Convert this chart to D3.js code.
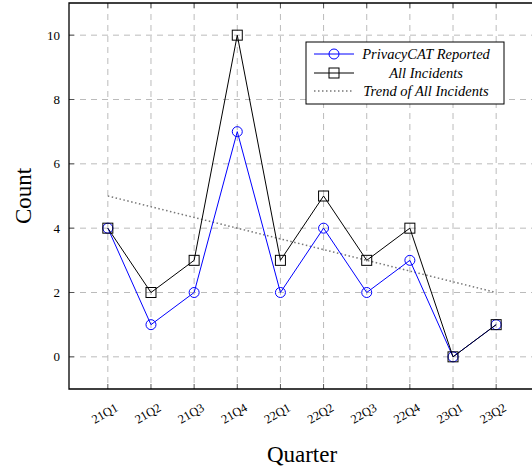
<!DOCTYPE html>
<html>
<head>
<meta charset="utf-8">
<script src="https://cdn.jsdelivr.net/npm/d3@7"></script>
<style>
body { margin:0; background:#fff; }
text { font-family: "Liberation Serif", "DejaVu Serif", serif; }
</style>
</head>
<body>
<svg id="chart" width="532" height="469"></svg>
<script>
// data
var quarters = ["21Q1","21Q2","21Q3","21Q4","22Q1","22Q2","22Q3","22Q4","23Q1","23Q2"];
var privacyCat = [4,1,2,7,2,4,2,3,0,1];
var allIncidents = [4,2,3,10,3,5,3,4,0,1];
var trendEnds = [5,2]; // linear trend, first and last quarter
var yTicks = [0,2,4,6,8,10];

var svg = d3.select("#chart");
var plot = {left:69, top:3, right:535, bottom:389};

var x = d3.scaleLinear().domain([-0.9, 9.9]).range([plot.left, plot.right]);
var y = d3.scaleLinear().domain([-1, 11]).range([plot.bottom, plot.top]);

/* grid */
var grid = svg.append("g").attr("stroke","#bbb").attr("stroke-dasharray","6,5").attr("stroke-width",1);
quarters.forEach(function(q,i){
  grid.append("line").attr("x1",x(i)).attr("x2",x(i)).attr("y1",plot.top).attr("y2",plot.bottom);
});
yTicks.forEach(function(v){
  grid.append("line").attr("x1",plot.left).attr("x2",plot.right).attr("y1",y(v)).attr("y2",y(v));
});

/* inward ticks */
var ticks = svg.append("g").attr("stroke","#555").attr("stroke-width",1);
quarters.forEach(function(q,i){
  ticks.append("line").attr("x1",x(i)).attr("x2",x(i)).attr("y1",plot.bottom).attr("y2",plot.bottom-5);
  ticks.append("line").attr("x1",x(i)).attr("x2",x(i)).attr("y1",plot.top).attr("y2",plot.top+5);
});
yTicks.forEach(function(v){
  ticks.append("line").attr("x1",plot.left).attr("x2",plot.left+5).attr("y1",y(v)).attr("y2",y(v));
});

/* frame */
svg.append("path")
  .attr("d","M"+plot.right+","+plot.top+"H"+plot.left+"V"+plot.bottom+"H"+plot.right)
  .attr("fill","none").attr("stroke","#000").attr("stroke-width",1.3);

/* tick labels */
svg.append("g").selectAll("text").data(yTicks).enter().append("text")
  .attr("x",plot.left-9).attr("y",function(d){return y(d);})
  .attr("dy","0.35em").attr("text-anchor","end").attr("font-size",13)
  .text(function(d){return d;});

svg.append("g").selectAll("text").data(quarters).enter().append("text")
  .attr("transform",function(d,i){return "translate("+(x(i)+11)+","+(plot.bottom+21)+") rotate(-30)";})
  .attr("text-anchor","end").attr("font-size",12.5)
  .text(function(d){return d;});

/* axis titles */
svg.append("text").attr("transform","translate(31,196) rotate(-90)")
  .attr("text-anchor","middle").attr("font-size",23).text("Count");
svg.append("text").attr("x",302).attr("y",462)
  .attr("text-anchor","middle").attr("font-size",23).text("Quarter");

/* trend */
svg.append("line")
  .attr("x1",x(0)).attr("y1",y(trendEnds[0]))
  .attr("x2",x(quarters.length-1)).attr("y2",y(trendEnds[1]))
  .attr("stroke","#777").attr("stroke-width",1.5).attr("stroke-dasharray","1.5,2.5");

var line = d3.line().x(function(d,i){return x(i);}).y(function(d){return y(d);});

/* PrivacyCAT series */
svg.append("path").datum(privacyCat).attr("d",line)
  .attr("fill","none").attr("stroke","#00f").attr("stroke-width",1);
svg.append("g").selectAll("circle").data(privacyCat).enter().append("circle")
  .attr("cx",function(d,i){return x(i);}).attr("cy",function(d){return y(d);})
  .attr("r",5).attr("fill","none").attr("stroke","#00f").attr("stroke-width",1);

/* All incidents series */
svg.append("path").datum(allIncidents).attr("d",line)
  .attr("fill","none").attr("stroke","#000").attr("stroke-width",1);
svg.append("g").selectAll("rect").data(allIncidents).enter().append("rect")
  .attr("x",function(d,i){return x(i)-5;}).attr("y",function(d){return y(d)-5;})
  .attr("width",10).attr("height",10)
  .attr("fill","none").attr("stroke","#000").attr("stroke-width",1);

/* legend */
var lg = svg.append("g").attr("transform","translate(306,42)");
lg.append("rect").attr("width",198).attr("height",62)
  .attr("fill","#fff").attr("stroke","#000").attr("stroke-width",1);
lg.append("line").attr("x1",8).attr("x2",48).attr("y1",12).attr("y2",12).attr("stroke","#00f");
lg.append("circle").attr("cx",28).attr("cy",12).attr("r",5).attr("fill","none").attr("stroke","#00f");
lg.append("line").attr("x1",8).attr("x2",48).attr("y1",31).attr("y2",31).attr("stroke","#000");
lg.append("rect").attr("x",23).attr("y",26).attr("width",10).attr("height",10).attr("fill","none").attr("stroke","#000");
lg.append("line").attr("x1",8).attr("x2",48).attr("y1",49).attr("y2",49)
  .attr("stroke","#777").attr("stroke-width",1.5).attr("stroke-dasharray","1.5,2.5");
var labels = ["PrivacyCAT Reported","All Incidents","Trend of All Incidents"];
lg.selectAll("text.lab").data(labels).enter().append("text")
  .attr("x",120).attr("y",function(d,i){return 12+i*18.5;})
  .attr("dy","0.35em").attr("text-anchor","middle")
  .attr("font-size",14.5).attr("font-style","italic")
  .text(function(d){return d;});
</script>
</body>
</html>
